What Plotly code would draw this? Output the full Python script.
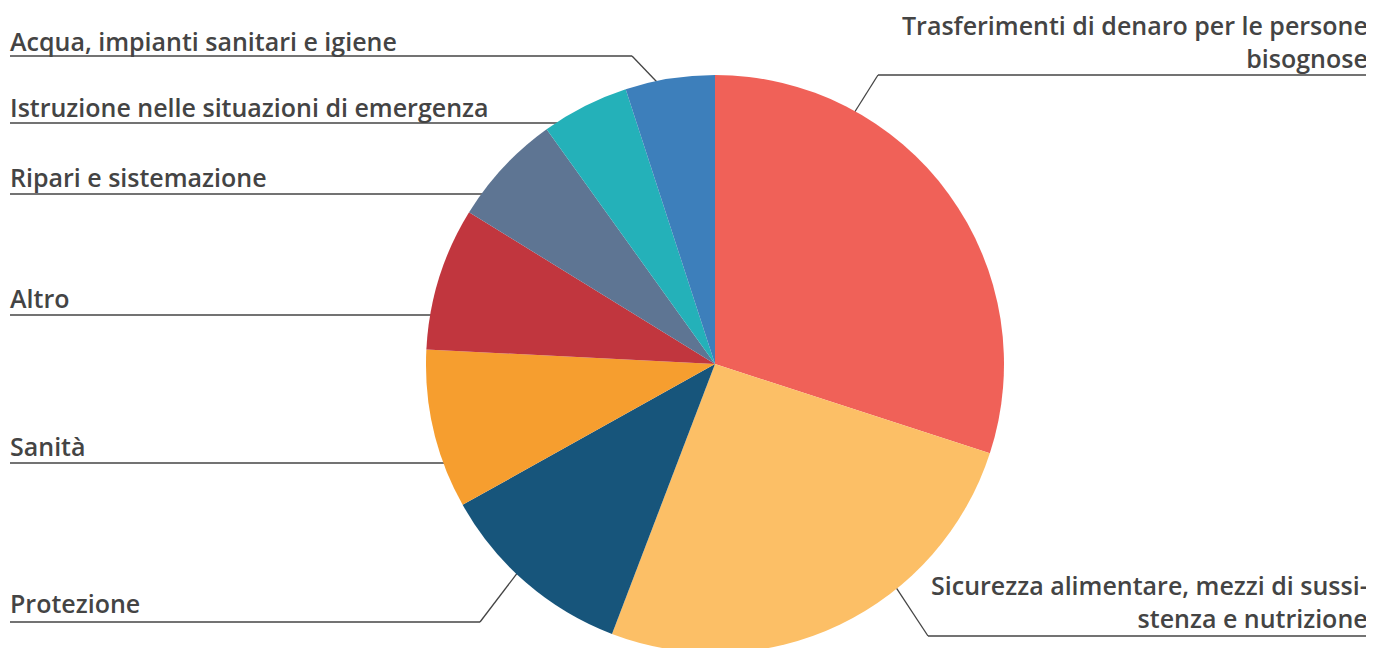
import math
import plotly.graph_objects as go

# Data (shares, %), clockwise from 12 o'clock
categories = [
    "Trasferimenti di denaro per le persone bisognose",
    "Sicurezza alimentare, mezzi di sussistenza e nutrizione",
    "Protezione",
    "Sanità",
    "Altro",
    "Ripari e sistemazione",
    "Istruzione nelle situazioni di emergenza",
    "Acqua, impianti sanitari e igiene",
]
values = [30.0, 25.8, 11.1, 8.9, 8.0, 6.3, 4.9, 5.0]
colors = ["#F06158", "#FCBF66", "#17557B", "#F69E2F", "#C1363E", "#5E7593", "#24B1B9", "#3D7FBB"]

# page offset of the plot div (body margin) and figure size
OFF = 8
W, H = 1366, 660
# screen-pixel geometry of the pie (layout)
CX, CY, R = 715, 364, 289

def lx(x):  # screen x -> paper
    return (x - OFF) / W

def ly(y):  # screen y -> paper
    return 1 - (y - OFF) / H

fig = go.Figure(go.Pie(
    labels=categories, values=values, sort=False, direction="clockwise", rotation=0,
    marker=dict(colors=colors, line=dict(width=0)), textinfo="none", hoverinfo="label+percent",
    domain=dict(x=[lx(CX - R), lx(CX + R)], y=[ly(CY + R), ly(CY - R)]),
    showlegend=False,
))

TXT = "#444444"
FONT = dict(family="'Open Sans', 'Noto Sans', sans-serif", size=25, color=TXT, weight=600)
DESC = 9  # baseline -> annotation box bottom

def circ(theta_deg, k=0.995):
    t = math.radians(theta_deg)
    return CX + k * R * math.sin(t), CY - k * R * math.cos(t)

def edge_x_left(y):
    return CX - math.sqrt(max(R * R - (y - CY) ** 2, 0))

shapes = []
annotations = []

def line(x0, y0, x1, y1):
    shapes.append(dict(type="line", xref="paper", yref="paper", x0=lx(x0), y0=ly(y0), x1=lx(x1), y1=ly(y1),
                       line=dict(color=TXT, width=1.3), layer="below"))

def text(t, x, baseline, anchor="left"):
    annotations.append(dict(text=t, xref="paper", yref="paper", x=lx(x), y=ly(baseline + DESC),
                            xanchor=anchor, yanchor="bottom", align=anchor, showarrow=False, font=FONT))

# left labels with horizontal lines: (text, baseline, line y)
left_labels = [
    ("Istruzione nelle situazioni di emergenza", 117, 123),
    ("Ripari e sistemazione", 187, 194),
    ("Altro", 308, 315),
    ("Sanità", 456, 463),
]
for t, b, y in left_labels:
    text(t, 8, b)
    line(10, y, edge_x_left(y) + 3, y)

# Acqua with elbow
text("Acqua, impianti sanitari e igiene", 8, 51)
ex, ey = circ(348.4)
line(10, 56, 632, 56)
line(632, 56, ex, ey)

# Protezione with elbow
text("Protezione", 8, 613)
ex, ey = circ(223.4)
line(10, 622, 480, 622)
line(480, 622, ex, ey)

# Trasferimenti (right)
text("Trasferimenti di denaro per le persone<br>bisognose", 1370, 68, "right")
ex, ey = circ(29)
line(1368, 75, 878, 75)
line(878, 75, ex, ey)

# Sicurezza (right)
text("Sicurezza alimentare, mezzi di sussi-<br>stenza e nutrizione", 1370, 628, "right")
ex, ey = circ(141)
line(1368, 636, 928, 636)
line(928, 636, ex, ey)

fig.update_layout(
    width=W, height=H, margin=dict(l=0, r=0, t=0, b=0),
    paper_bgcolor="white", plot_bgcolor="white",
    shapes=shapes, annotations=annotations,
)

fig.write_html("out.html")
